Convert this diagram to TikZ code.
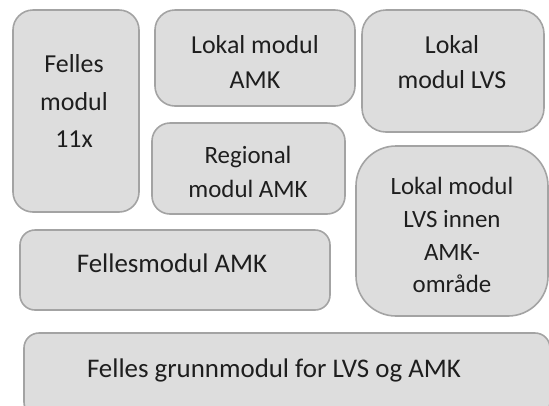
\documentclass[tikz,border=0pt]{standalone}
\usepackage{fontspec}
\setmainfont{Carlito}
\definecolor{boxfill}{HTML}{DDDDDD}
\definecolor{boxline}{HTML}{A3A3A3}
\definecolor{txt}{HTML}{1E1E1E}
\begin{document}
\begin{tikzpicture}[x=1bp,y=-1bp,
  modbox/.style={draw=boxline,fill=boxfill,line width=1.6bp,inner sep=0pt},
  lbl/.style={text=txt,align=center,inner sep=0pt,font=\fontsize{26}{35}\selectfont}]
\useasboundingbox (0,0) rectangle (549,405);
% boxes
\node[modbox,rounded corners=20bp,minimum width=126bp,minimum height=202bp] (b1) at (76,111) {};
\node[modbox,rounded corners=20bp,minimum width=200bp,minimum height=96bp] (b2) at (255,58) {};
\node[modbox,rounded corners=18bp,minimum width=193bp,minimum height=91bp] (b3) at (248.5,168.5) {};
\node[modbox,rounded corners=24bp,minimum width=182bp,minimum height=122bp] (b4) at (453,71) {};
\node[modbox,rounded corners=40bp,minimum width=192bp,minimum height=170bp] (b5) at (452,231) {};
\node[modbox,rounded corners=15bp,minimum width=310bp,minimum height=80bp] (b6) at (175,270) {};
\node[modbox,rounded corners=15bp,minimum width=526bp,minimum height=84bp] (b7) at (287,375) {};
% labels
\node[lbl,font=\fontsize{26}{38}\selectfont] (t1) at (74,101) {Felles\\modul\\11x};
\node[lbl] (t2) at (255,62) {Lokal modul\\AMK};
\node[lbl,font=\fontsize{25}{34}\selectfont] (t3) at (248,172) {Regional\\modul AMK};
\node[lbl] (t4) at (452,62) {Lokal\\modul LVS};
\node[lbl,font=\fontsize{25}{33}\selectfont] (t5) at (452,235) {Lokal modul\\LVS innen\\AMK-\\område};
\node[lbl,font=\fontsize{27}{34}\selectfont] (t6) at (172,263) {Fellesmodul AMK};
\node[lbl,font=\fontsize{27}{34}\selectfont] (t7) at (274,370) {Felles grunnmodul for LVS og AMK};
\end{tikzpicture}
\end{document}
